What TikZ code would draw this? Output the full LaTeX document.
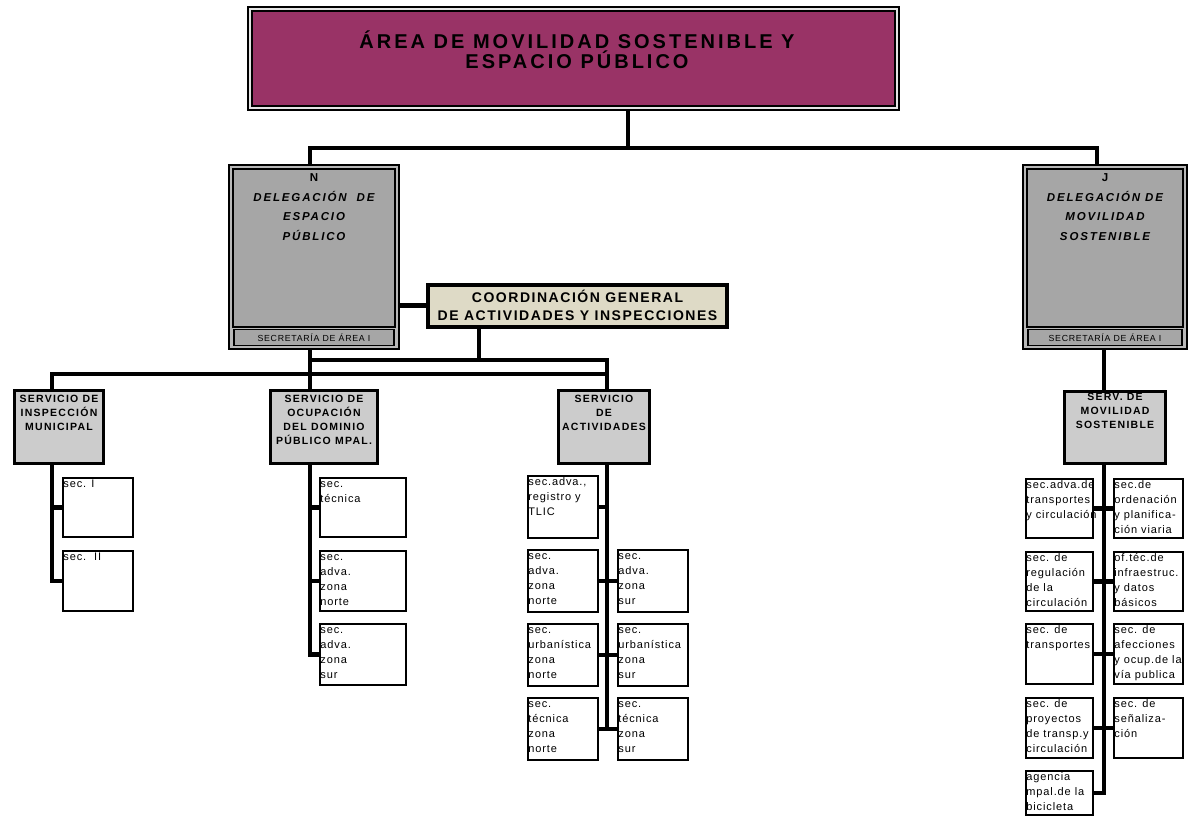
\documentclass[tikz,border=0pt]{standalone}
\usepackage{fontspec}
\usetikzlibrary{calc}
\setmainfont{Liberation Sans}
\newfontfamily\titlefont[LetterSpace=15]{Liberation Sans}
\newfontfamily\headfont[LetterSpace=12]{Liberation Sans}
\newfontfamily\delfont[LetterSpace=16]{Liberation Sans}
\newfontfamily\secfont[LetterSpace=8]{Liberation Sans}
\newfontfamily\coordfont[LetterSpace=11]{Liberation Sans}
\newfontfamily\subfont[LetterSpace=8]{Liberation Sans}
% let close lines keep their exact baseline distance
\newcommand\tightlines{\lineskiplimit=-100pt\relax}

\definecolor{areamag}{HTML}{993366}
\definecolor{delgray}{HTML}{A6A6A6}
\definecolor{delgrayl}{HTML}{B8B8B8}
\definecolor{servgray}{HTML}{CCCCCC}
\definecolor{coordbeige}{HTML}{DEDAC6}

\pgfdeclarelayer{bg}
\pgfsetlayers{bg,main}

% one white sub-section box with its left-aligned text
\newcommand\orgsub[6]{%
  \node[subbox, minimum width=#4pt, minimum height=#5pt] (#1) at (#2,#3) {};
  \node[subtxt] (#1t) at (#1.north west) {\strut #6};}

\begin{document}
\begin{tikzpicture}[x=1pt,y=-1pt,line join=miter,
  conn/.style={line width=4.5pt, line cap=rect},
  subbox/.style={draw, line width=2pt, fill=white, anchor=north west, inner sep=0},
  subtxt/.style={anchor=north west, inner xsep=1.2pt, inner ysep=0pt,
    align=left, font=\subfont\fontsize{11}{15}\selectfont},
  servbox/.style={draw, line width=3pt, fill=servgray, anchor=north west, inner sep=0},
  servtxt/.style={anchor=north, inner xsep=0pt, inner ysep=3pt, align=center,
    font=\headfont\fontsize{10.5}{14}\selectfont\bfseries},
  delouter/.style={draw, line width=2pt, fill=delgrayl, anchor=north west, inner sep=0},
  delinner/.style={draw, line width=1.8pt, fill=delgray},
  deltxt/.style={anchor=north, inner sep=0pt, align=center,
    font=\delfont\fontsize{11.5}{19.6}\selectfont\bfseries},
  secbox/.style={draw, line width=1.8pt, fill=delgray, minimum width=160pt,
    minimum height=16pt, inner sep=0, font=\secfont\fontsize{8.8}{10}\selectfont},
]
\useasboundingbox (0,0) rectangle (1193,818);

% ---- top area box
\node[draw, line width=2pt, fill=black!10, anchor=north west, minimum width=651pt,
  minimum height=103pt, inner sep=0] (area) at (247,6) {};
\draw[line width=2.6pt, fill=areamag] ($(area.north west)+(5,5)$) rectangle ($(area.south east)+(-5,-5)$);
\node[anchor=north, inner sep=0, align=center,
  font=\titlefont\fontsize{20}{20}\selectfont\bfseries\tightlines] (areaT) at (577,31)
  {\strut ÁREA DE MOVILIDAD SOSTENIBLE Y\\ESPACIO PÚBLICO};

% ---- delegations
\node[delouter, minimum width=170pt, minimum height=184pt] (delN) at (228,164) {};
\draw[delinner] ($(delN.north west)+(5,5)$) rectangle ($(delN.south east)+(-5,-23)$);
\node[secbox] (secN) at ($(delN.south)+(0,-12.5)$) {SECRETARÍA DE ÁREA I};
\node[deltxt] (delNT) at ($(delN.north)+(0,3.5)$)
  {\strut N\\{\itshape DELEGACIÓN\ \ DE}\\{\itshape ESPACIO}\\{\itshape PÚBLICO}};

\node[delouter, minimum width=164pt, minimum height=184pt] (delJ) at (1022,164) {};
\draw[delinner] ($(delJ.north west)+(5,5)$) rectangle ($(delJ.south east)+(-5,-23)$);
\node[secbox, minimum width=154pt] (secJ) at ($(delJ.south)+(0,-12.5)$) {SECRETARÍA DE ÁREA I};
\node[deltxt] (delJT) at ($(delJ.north)+(0,3.5)$)
  {\strut J\\{\itshape DELEGACIÓN DE}\\{\itshape MOVILIDAD}\\{\itshape SOSTENIBLE}};

% ---- general coordination
\node[draw, line width=4pt, fill=coordbeige, minimum width=299pt, minimum height=42pt,
  inner sep=0, align=center, font=\coordfont\fontsize{14}{18}\selectfont\bfseries]
  (coord) at (577.5,305.5) {COORDINACIÓN GENERAL\\DE ACTIVIDADES Y INSPECCIONES};

% ---- services
\node[servbox, minimum width=89pt, minimum height=73pt] (svIns) at (13,389) {};
\node[servtxt] (svInsT) at (svIns.north) {\strut SERVICIO DE\\INSPECCIÓN\\MUNICIPAL};
\node[servbox, minimum width=107pt, minimum height=73pt] (svOcu) at (269,389) {};
\node[servtxt] (svOcuT) at (svOcu.north) {\strut SERVICIO DE\\OCUPACIÓN\\DEL DOMINIO\\PÚBLICO MPAL.};
\node[servbox, minimum width=91pt, minimum height=73pt] (svAct) at (557,389) {};
\node[servtxt] (svActT) at (svAct.north) {\strut SERVICIO\\DE\\ACTIVIDADES};
\node[servbox, minimum width=101pt, minimum height=72pt] (svMov) at (1063,390) {};
\node[servtxt, inner ysep=0pt] (svMovT) at (svMov.north) {\strut SERV. DE\\MOVILIDAD\\SOSTENIBLE};

% ---- sections
\orgsub{sI1}{62}{477}{70}{59}{sec. I}
\orgsub{sI2}{62}{550}{70}{60}{sec.\ \ II}

\orgsub{sO1}{319}{477}{86}{59}{sec.\\técnica}
\orgsub{sO2}{319}{550}{86}{60}{sec.\\adva.\\zona\\norte}
\orgsub{sO3}{319}{623}{86}{61}{sec.\\adva.\\zona\\sur}

\orgsub{aL1}{527}{475}{70}{62}{sec.adva.,\\registro y\\TLIC}
\orgsub{aL2}{527}{549}{70}{62}{sec.\\adva.\\zona\\norte}
\orgsub{aR2}{617}{549}{70}{62}{sec.\\adva.\\zona\\sur}
\orgsub{aL3}{527}{623}{70}{62}{sec.\\urbanística\\zona\\norte}
\orgsub{aR3}{617}{623}{70}{62}{sec.\\urbanística\\zona\\sur}
\orgsub{aL4}{527}{697}{70}{62}{sec.\\técnica\\zona\\norte}
\orgsub{aR4}{617}{697}{70}{62}{sec.\\técnica\\zona\\sur}

\orgsub{mL1}{1025}{478}{67}{59}{sec.adva.de\\transportes\\y circulación}
\orgsub{mR1}{1113}{478}{69}{59}{sec.de\\ordenación\\y planifica-\\ción viaria}
\orgsub{mL2}{1025}{551}{67}{59}{sec. de\\regulación\\de la\\circulación}
\orgsub{mR2}{1113}{551}{69}{59}{of.téc.de\\infraestruc.\\y datos\\básicos}
\orgsub{mL3}{1025}{623}{67}{60}{sec. de\\transportes}
\orgsub{mR3}{1113}{623}{69}{60}{sec. de\\afecciones\\y ocup.de la\\vía publica}
\orgsub{mL4}{1025}{697}{67}{60}{sec. de\\proyectos\\de transp.y\\circulación}
\orgsub{mR4}{1113}{697}{69}{60}{sec. de\\señaliza-\\ción}
\orgsub{m5}{1025}{770}{67}{44}{agencia\\mpal.de la\\bicicleta}

% ---- connector trunk positions
\coordinate (tIns) at (52,0);
\coordinate (tOcu) at (310,0);
\coordinate (tAct) at (607,0);
\coordinate (tMov) at (1104,0);
\coordinate (tTop) at (628,148);
\coordinate (tCo) at (479,360);
\coordinate (tLow) at (0,374);

\begin{pgfonlayer}{bg}
  % area to delegations
  \draw[conn] (area.south -| tTop) -- (tTop);
  \draw[conn] (delN.north -| tOcu) |- (tTop) -| ($(delJ.north)+(-8,0)$);
  % delegation N to coordination and services
  \draw[conn] (delN.east |- coord.west) -- (coord.west);
  \draw[conn] (coord.south -| tCo) -- (tCo);
  \draw[conn] (tOcu |- tCo) -| (svAct.north -| tAct);
  \draw[conn] (svIns.north -| tIns) |- (tAct |- tLow);
  \draw[conn] (delN.south -| tOcu) -- (svOcu.north -| tOcu);
  % delegation J to its service
  \draw[conn] (delJ.south -| tMov) -- (svMov.north -| tMov);
  % inspection sections
  \draw[conn] (svIns.south -| tIns) |- (sI2.west);
  \draw[conn] (tIns |- sI1.west) -- (sI1.west);
  % occupation sections
  \draw[conn] (svOcu.south -| tOcu) |- (sO3.west);
  \draw[conn] (tOcu |- sO1.west) -- (sO1.west);
  \draw[conn] (tOcu |- sO2.west) -- (sO2.west);
  % activities sections
  \draw[conn] (svAct.south -| tAct) -- (tAct |- aL4.east);
  \draw[conn] (aL1.east) -- (tAct |- aL1.east);
  \draw[conn] (aL2.east) -- (aR2.west);
  \draw[conn] (aL3.east) -- (aR3.west);
  \draw[conn] (aL4.east) -- (aR4.west);
  % mobility sections
  \draw[conn] (svMov.south -| tMov) -- (tMov |- m5.east);
  \draw[conn] (mL1.east) -- (mR1.west);
  \draw[conn] (mL2.east) -- (mR2.west);
  \draw[conn] (mL3.east) -- (mR3.west);
  \draw[conn] (mL4.east) -- (mR4.west);
  \draw[conn] (m5.east) -- (tMov |- m5.east);
\end{pgfonlayer}
\end{tikzpicture}
\end{document}
